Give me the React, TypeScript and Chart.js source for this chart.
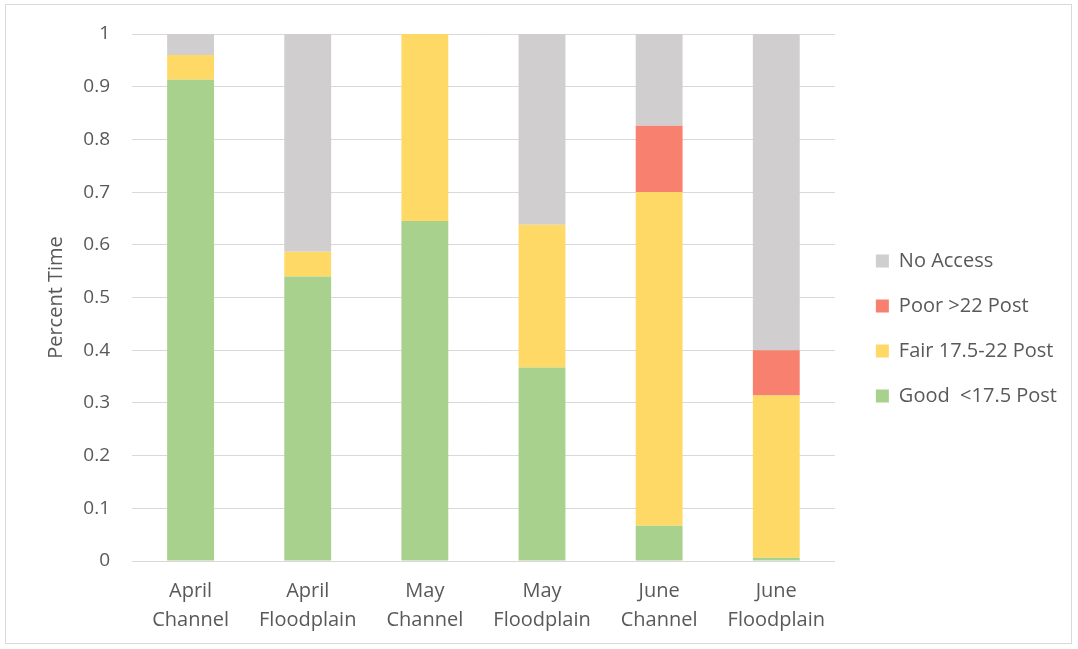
import React, { useEffect, useRef } from "react";
import { Chart, registerables } from "chart.js";

Chart.register(...registerables);

const categories: string[][] = [
  ["April", "Channel"],
  ["April", "Floodplain"],
  ["May", "Channel"],
  ["May", "Floodplain"],
  ["June", "Channel"],
  ["June", "Floodplain"],
];

const goodValues = [0.913, 0.54, 0.645, 0.367, 0.067, 0.006];
const fairValues = [0.047, 0.047, 0.355, 0.271, 0.633, 0.308];
const poorValues = [0, 0, 0, 0, 0.126, 0.086];
const noAccessValues = [0.04, 0.413, 0, 0.362, 0.174, 0.6];

const seriesNames = ["Good  <17.5 Post", "Fair 17.5-22 Post", "Poor >22 Post", "No Access"];
const seriesColors = ["#A9D18E", "#FFD966", "#F8806F", "#D0CECE"];

const FONT = "'Open Sans', sans-serif";
const TEXT = "#595959";

const shiftLegend = {
  id: "shiftLegend",
  afterLayout(chart: any) {
    const lg = chart.legend;
    if (lg) {
      lg.top -= 13;
      lg.bottom -= 13;
      lg.left += 16;
      lg.right += 16;
    }
  },
};

export default function App() {
  const ref = useRef<HTMLCanvasElement | null>(null);

  useEffect(() => {
    if (!ref.current) return;
    const values = [goodValues, fairValues, poorValues, noAccessValues];
    const chart = new Chart(ref.current, {
      type: "bar",
      data: {
        labels: categories,
        datasets: values.map((v, i) => ({
          label: seriesNames[i],
          data: v,
          backgroundColor: seriesColors[i],
          borderWidth: 0,
          barPercentage: 0.4,
          categoryPercentage: 1,
        })),
      },
      plugins: [shiftLegend],
      options: {
        animation: false,
        responsive: false,
        maintainAspectRatio: false,
        layout: { padding: { left: 8, top: 34, right: 27, bottom: 0 } },
        plugins: {
          tooltip: { enabled: false },
          legend: {
            position: "right",
            reverse: true,
            labels: {
              boxWidth: 13,
              boxHeight: 13,
              padding: 25,
              color: TEXT,
              font: { family: FONT, size: 20 },
            },
          },
        },
        scales: {
          x: {
            stacked: true,
            grid: { display: false },
            border: { display: true, color: "#D9D9D9", width: 1 },
            ticks: {
              color: TEXT,
              font: { family: FONT, size: 20, lineHeight: 1.45 },
              padding: 8,
              maxRotation: 0,
              autoSkip: false,
            },
            afterFit: (s: any) => {
              s.height = 649 - 561;
            },
          },
          y: {
            stacked: true,
            min: 0,
            max: 1,
            grid: { color: "#D9D9D9", drawTicks: false },
            border: { display: false },
            ticks: {
              stepSize: 0.1,
              color: TEXT,
              font: { family: FONT, size: 19 },
              padding: 22,
              callback: (v: any) => String(Math.round(Number(v) * 10) / 10),
            },
            title: {
              display: true,
              text: "Percent Time",
              color: TEXT,
              font: { family: FONT, size: 20, weight: "normal" },
              padding: { top: 36, bottom: 0 },
            },
            afterFit: (s: any) => {
              s.width = 124;
            },
          },
        },
      },
    });
    return () => chart.destroy();
  }, []);

  return (
    <div style={{ position: "fixed", left: 0, top: 0, width: 1078, height: 649, background: "#fff" }}>
      <div
        style={{
          position: "absolute",
          left: 5,
          top: 4,
          width: 1067,
          height: 640,
          border: "1px solid #D9D9D9",
          boxSizing: "border-box",
        }}
      />
      <canvas ref={ref} width={1078} height={649} style={{ position: "absolute", left: 0, top: 0 }} />
    </div>
  );
}
